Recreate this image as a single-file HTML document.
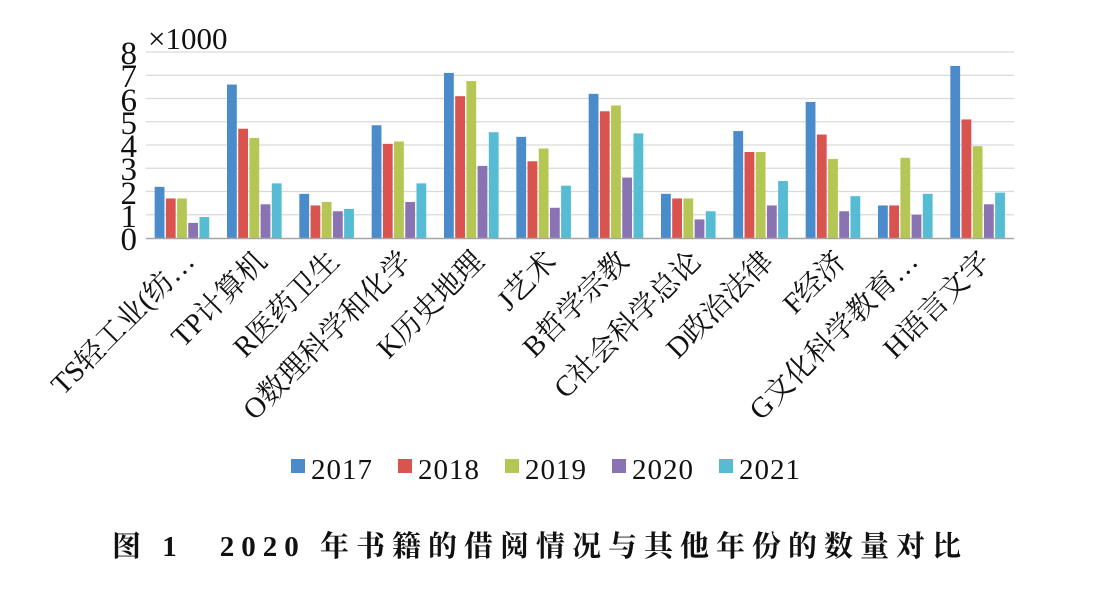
<!DOCTYPE html>
<html><head><meta charset="utf-8"><style>
html,body{margin:0;padding:0;background:#fff}
svg{display:block}
text{font-family:"Liberation Serif","Noto Serif CJK SC",serif;fill:#111}
</style></head><body>
<svg width="1107" height="590" xmlns="http://www.w3.org/2000/svg">
<g id="grid" stroke="#d9d9d9" stroke-width="1.2">
<line x1="146" x2="1014" y1="52" y2="52"/><line x1="146" x2="1014" y1="75.25" y2="75.25"/>
<line x1="146" x2="1014" y1="98.5" y2="98.5"/><line x1="146" x2="1014" y1="121.75" y2="121.75"/>
<line x1="146" x2="1014" y1="145" y2="145"/><line x1="146" x2="1014" y1="168.25" y2="168.25"/>
<line x1="146" x2="1014" y1="191.5" y2="191.5"/><line x1="146" x2="1014" y1="214.75" y2="214.75"/>
</g>
<g id="bars"></g>
<line x1="146" x2="1014" y1="238.5" y2="238.5" stroke="#a6a6a6" stroke-width="1.5"/>
<g font-size="33" text-anchor="end">
<text x="137" y="250">0</text><text x="137" y="227">1</text><text x="137" y="204">2</text>
<text x="137" y="180">3</text><text x="137" y="157">4</text><text x="137" y="134">5</text>
<text x="137" y="111">6</text><text x="137" y="87">7</text><text x="137" y="64">8</text>
</g>
<text x="148" y="49" font-size="31">×1000</text>
<g id="labels" font-size="29" text-anchor="end"></g>
<g font-size="29" letter-spacing="1">
<rect x="291" y="459" width="14" height="14" fill="#4a8ccb"/><text x="311" y="479">2017</text>
<rect x="398" y="459" width="14" height="14" fill="#d9534f"/><text x="418" y="479">2018</text>
<rect x="505" y="459" width="14" height="14" fill="#b5c654"/><text x="525" y="479">2019</text>
<rect x="612" y="459" width="14" height="14" fill="#8a73b3"/><text x="632" y="479">2020</text>
<rect x="719" y="459" width="14" height="14" fill="#55bcd4"/><text x="739" y="479">2021</text>
</g>
<text x="540" y="556" font-size="29" font-weight="bold" text-anchor="middle" letter-spacing="7">图 1　2020 年书籍的借阅情况与其他年份的数量对比</text>
<script>
var d=[[2.2,1.7,1.7,0.65,0.9],[6.6,4.7,4.3,1.45,2.35],[1.9,1.4,1.55,1.15,1.25],[4.85,4.05,4.15,1.55,2.35],[7.1,6.1,6.75,3.1,4.55],[4.35,3.3,3.85,1.3,2.25],[6.2,5.45,5.7,2.6,4.5],[1.9,1.7,1.7,0.8,1.15],[4.6,3.7,3.7,1.4,2.45],[5.85,4.45,3.4,1.15,1.8],[1.4,1.4,3.45,1.0,1.9],[7.4,5.1,3.95,1.45,1.95]];
var c=["#4a8ccb","#d9534f","#b5c654","#8a73b3","#55bcd4"];
var L=["TS轻工业(纺…","TP计算机","R医药卫生","O数理科学和化学","K历史地理","J艺术","B哲学宗教","C社会科学总论","D政治法律","F经济","G文化科学教育…","H语言文字"];
var ns="http://www.w3.org/2000/svg",b=document.getElementById("bars"),lb=document.getElementById("labels");
var gw=868/12;
for(var i=0;i<12;i++){var cx=146+gw*(i+0.5);
for(var j=0;j<5;j++){var r=document.createElementNS(ns,"rect");var h=d[i][j]*23.25;
r.setAttribute("x",cx-27.5+j*11.2);r.setAttribute("width",9.8);r.setAttribute("y",238-h);r.setAttribute("height",h);r.setAttribute("fill",c[j]);b.appendChild(r);}
var t=document.createElementNS(ns,"text");var ax=cx+14,ay=263;t.setAttribute("x",ax);t.setAttribute("y",ay);t.setAttribute("transform","rotate(-45 "+ax+" "+ay+")");t.textContent=L[i];lb.appendChild(t);}
</script>
</svg>
</body></html>
